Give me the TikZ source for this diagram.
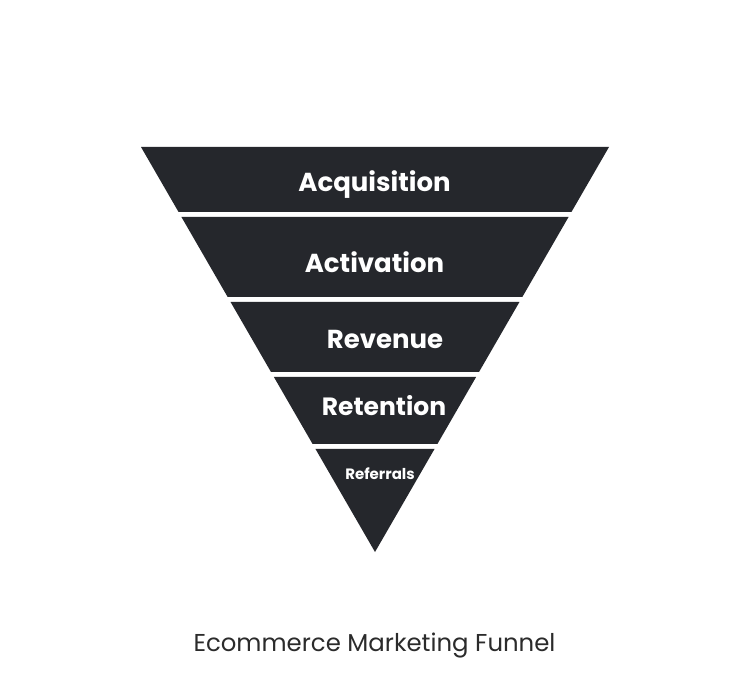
\documentclass[tikz,border=0pt]{standalone}
\usepackage{fontspec}
\setmainfont{Poppins}
\definecolor{funnel}{HTML}{25272C}
\definecolor{titlec}{HTML}{2B2B2B}
\begin{document}
\begin{tikzpicture}[x=1pt,y=-1pt,
  band/.style={fill=funnel,draw=none},
  lab/.style={text=white,font=\fontsize{26}{26}\selectfont\bfseries,inner sep=0pt,anchor=center},
  smalllab/.style={text=white,font=\fontsize{15}{15}\selectfont\bfseries,inner sep=0pt,anchor=center}]
\useasboundingbox (0,0) rectangle (750,700);
\fill[white] (0,0) rectangle (750,700);
% funnel: top y=147, half-width 234, apex (375,552)
\pgfmathsetmacro{\s}{234/405}
\foreach \a/\b in {147/212,217/297,302/372,377/444,449/552}{
  \pgfmathsetmacro{\la}{141+\s*(\a-147)}
  \pgfmathsetmacro{\ra}{609-\s*(\a-147)}
  \pgfmathsetmacro{\lb}{141+\s*(\b-147)}
  \pgfmathsetmacro{\rb}{609-\s*(\b-147)}
  \fill[band] (\la,\a) -- (\ra,\a) -- (\rb,\b) -- (\lb,\b) -- cycle;
}
\node[lab] (acq) at (374.5,184.5) {Acquisition};
\node[lab] (act) at (374.5,262) {Activation};
\node[lab] (rev) at (385,339) {Revenue};
\node[lab,font=\fontsize{25}{25}\selectfont\bfseries] (ret) at (384,406) {Retention};
\node[smalllab] (ref) at (380,474) {Referrals};
\node[text=titlec,font=\fontsize{24.4}{24.4}\selectfont,inner sep=0pt] (title) at (374.5,646) {Ecommerce Marketing Funnel};
\end{tikzpicture}
\end{document}
